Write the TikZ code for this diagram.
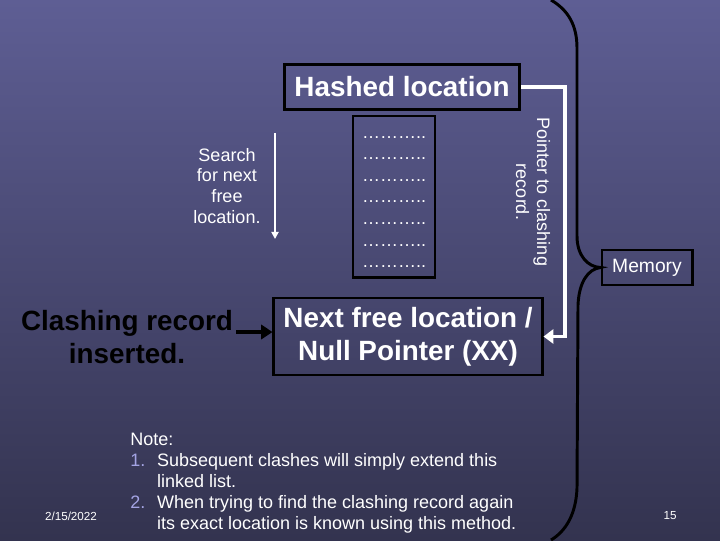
\documentclass[tikz,border=0pt]{standalone}
\usepackage{fontspec}
\setmainfont{Liberation Sans}
\usetikzlibrary{positioning,arrows.meta,calc}
\definecolor{slidetop}{HTML}{5E5E94}
\definecolor{slidemid}{HTML}{4A4A7A}
\definecolor{slidebot}{HTML}{33334F}
\definecolor{listnum}{HTML}{A4A4E4}

\begin{document}
\begin{tikzpicture}[
    x=0.025cm, y=-0.025cm,
    box/.style={draw=black, line width=2.1pt, inner sep=0pt, align=center, text=white},
    bigtext/.style={font=\fontsize{19.8}{23.4}\selectfont\bfseries},
    smalltext/.style={font=\fontsize{12.8}{14.9}\selectfont, text=white, align=center, inner sep=0pt},
    dots/.style={font=\fontsize{12.8}{14.9}\selectfont, text=white, inner sep=0pt},
    ptr/.style={draw=white, line width=2.8pt, -{Triangle[length=7pt, width=10pt]}},
    scan/.style={draw=white, line width=1.4pt, -{Triangle[length=5pt, width=5pt]}},
    push/.style={draw=black, line width=2.8pt, -{Triangle[length=8pt, width=10pt]}},
    bracket/.style={draw=black, line width=2.1pt},
]
\useasboundingbox (0,0) rectangle (720,540);
\shade[top color=slidetop, middle color=slidemid, bottom color=slidebot] (0,0) rectangle (720,540);

% memory table
\node[box, bigtext, minimum width=5.875cm, minimum height=1.125cm] (hashed) at (402,87) {Hashed location};
\node[box, minimum width=2.05cm, minimum height=4.025cm] (table) at (394,196.5) {};
\foreach \i in {0,...,6}
    \node[dots, anchor=base] (row\i) at (394,138+21.6*\i) {………..};
\node[box, bigtext, minimum width=6.7cm, minimum height=1.925cm] (next) at (408,336.5) {Next free location /\\Null Pointer (XX)};

% labels
\node[smalltext] (search) at (227,186) {Search\\for next\\free\\location.};
\coordinate (scantop) at (275,133);
\coordinate (scanbot) at (275,239);
\draw[scan] (scantop) -- (scanbot);
\node[smalltext, rotate=-90] (pointer) at (533,192) {Pointer to clashing\\record.};
\node[bigtext, align=center, inner sep=0pt] (clash) at (127,337) {Clashing record\\inserted.};

% connectors
\coordinate (bend) at (565,0);
\draw[ptr] (hashed.east) -| (bend |- next.east) -- (next.east);
\draw[push] ($(clash.east)+(3,-5)$) -- ($(next.west)+(0,-4.5)$);

% memory brace
\node[box, font=\fontsize{13.7}{16}\selectfont, minimum width=2.25cm, minimum height=0.875cm] (memory) at (647,267.5) {Memory};
\coordinate (bracetop) at (551,0);
\coordinate (bracebot) at (551,540);
\draw[bracket] (bracetop) .. controls (568,10) and (577,25) .. (577,48) -- (577,236)
    .. controls (577,256) and (588,267) .. (memory.west)
    .. controls (588,269) and (579,282) .. (578,305) -- (577,488)
    .. controls (576,514) and (566,531) .. (bracebot);

% note
\node[anchor=base west, inner sep=0pt, text=white, font=\fontsize{12.8}{15.1}\selectfont] (note) at (130,445)
    {\begin{tabular}[t]{@{}p{19.1pt}@{}l@{}}
    \multicolumn{2}{@{}l@{}}{Note:}\\
    \textcolor{listnum}{1.} & Subsequent clashes will simply extend this\\
     & linked list.\\
    \textcolor{listnum}{2.} & When trying to find the clashing record again\\
     & its exact location is known using this method.
    \end{tabular}};

% footer
\node[text=white, font=\fontsize{8.3}{10}\selectfont, inner sep=0pt] (date) at (71,516) {2/15/2022};
\node[text=white, font=\fontsize{8.3}{10}\selectfont, inner sep=0pt] (page) at (670,516) {15};
\end{tikzpicture}
\end{document}
